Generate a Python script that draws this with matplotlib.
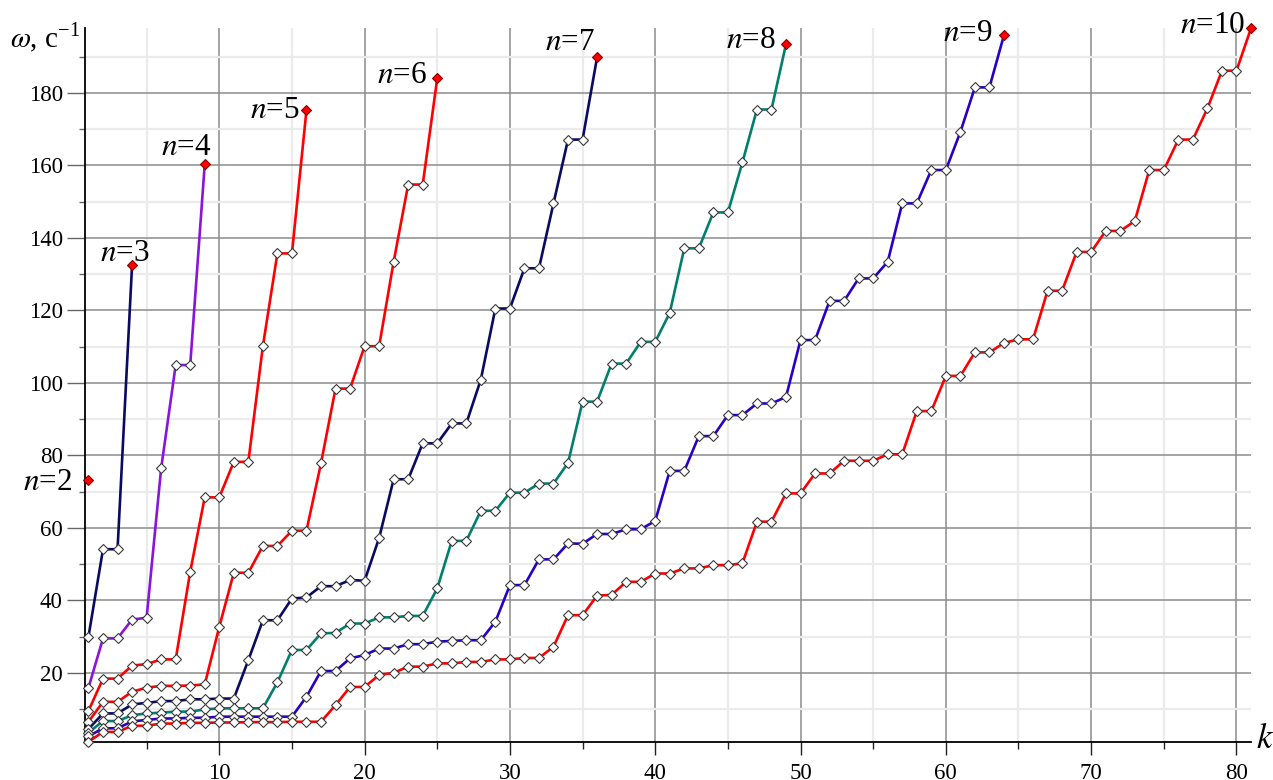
import matplotlib
matplotlib.use("Agg")
import matplotlib.pyplot as plt
from matplotlib.ticker import MultipleLocator

# eigenfrequencies omega (1/s) vs mode number k, one list per grid size n
n2 = [73.2]
n3 = [30.0, 54.1, 54.1, 132.5]
n4 = [15.9, 29.5, 29.5, 34.7, 35.2, 76.4, 104.9, 104.9, 160.3]
n5 = [9.5, 18.4, 18.4, 22.0, 22.4, 23.7, 23.7, 47.9, 68.4, 68.4, 78.2, 78.2,
      110.1, 135.7, 135.7, 175.2]
n6 = [6.5, 12.0, 12.0, 14.8, 15.9, 16.4, 16.4, 16.5, 16.8, 32.7, 47.6, 47.6,
      55.0, 55.0, 59.2, 59.2, 77.8, 98.4, 98.4, 110.1, 110.1, 133.4, 154.7,
      154.7, 184.0]
n7 = [4.5, 8.8, 8.8, 11.3, 11.7, 12.2, 12.2, 12.7, 12.7, 12.9, 12.9, 23.5,
      34.5, 34.5, 40.5, 40.8, 43.9, 43.9, 45.6, 45.4, 57.2, 73.4, 73.4, 83.3,
      83.3, 88.8, 88.8, 100.9, 120.5, 120.5, 131.6, 131.6, 149.5, 167.1, 167.1,
      189.8]
n8 = [3.5, 6.7, 6.7, 8.3, 8.8, 9.0, 9.3, 9.3, 9.9, 10.2, 10.2, 10.2, 10.2,
      17.4, 26.3, 26.3, 30.9, 31.0, 33.6, 33.6, 35.3, 35.3, 35.7, 35.7, 43.3,
      56.4, 56.4, 64.7, 64.7, 69.7, 69.7, 72.2, 72.2, 77.9, 94.8, 94.8, 105.3,
      105.3, 111.3, 111.3, 119.3, 137.1, 137.1, 147.0, 147.0, 160.8, 175.4,
      175.4, 193.4]
n9 = [2.5, 4.7, 4.7, 6.6, 7.0, 7.4, 7.4, 7.6, 7.6, 7.9, 7.9, 7.9, 7.9, 7.9,
      7.9, 13.4, 20.5, 20.5, 24.0, 24.9, 26.7, 26.7, 27.9, 27.9, 28.6, 28.8,
      29.0, 29.0, 34.1, 44.2, 44.2, 51.3, 51.3, 55.7, 55.6, 58.3, 58.3, 59.6,
      59.6, 61.9, 75.7, 75.7, 85.3, 85.3, 91.1, 91.1, 94.3, 94.3, 96.1, 111.8,
      111.8, 122.6, 122.6, 128.8, 128.8, 133.4, 149.5, 149.5, 158.7, 158.7,
      169.2, 181.5, 181.5, 195.9]
n10 = [1.0, 3.7, 3.7, 5.4, 5.4, 6.0, 6.0, 6.2, 6.2, 6.3, 6.3, 6.4, 6.4, 6.4,
       6.5, 6.5, 6.5, 11.1, 16.1, 16.1, 19.4, 20.0, 21.7, 21.7, 22.6, 22.6,
       23.0, 23.0, 23.7, 23.7, 24.1, 24.1, 27.2, 35.9, 35.9, 41.3, 41.5, 45.1,
       45.1, 47.4, 47.4, 48.8, 48.8, 49.7, 49.7, 50.2, 61.7, 61.7, 69.5, 69.5,
       75.0, 75.0, 78.5, 78.5, 78.5, 80.3, 80.3, 92.2, 92.2, 101.9, 101.9,
       108.4, 108.4, 111.0, 112.0, 112.0, 125.4, 125.4, 136.1, 136.1, 141.9,
       141.9, 144.6, 158.7, 158.7, 167.1, 167.1, 175.7, 186.1, 186.1, 197.8]

series = [(3, n3, '#0a0a64'), (4, n4, '#8a14d8'), (5, n5, '#ff0000'),
          (6, n6, '#ff0000'), (7, n7, '#0a0a64'), (8, n8, '#00806c'),
          (9, n9, '#2a00c8'), (10, n10, '#ff0000')]

# label offsets (pixels) relative to the last point of each curve
label_off = {2: (-16, -3), 3: (18, 12), 4: (7, 17), 5: (-7, 0), 6: (-10, 3),
             7: (-2, 15), 8: (-10, 4), 9: (-11, 2), 10: (-6, 3)}

plt.rcParams['font.family'] = 'serif'
plt.rcParams['font.serif'] = ['Liberation Serif', 'DejaVu Serif']
plt.rcParams['mathtext.fontset'] = 'stix'

fig = plt.figure(figsize=(12.73, 7.8), dpi=100)
W, H = 1273.0, 780.0
ax = fig.add_axes([85 / W, 1 - 741.7 / H, (1251 - 85) / W, (741.7 - 28.3) / H])

ax.set_xlim(0.76, 81.0)
ax.set_ylim(1.0, 197.8)

ax.xaxis.set_major_locator(MultipleLocator(10))
ax.xaxis.set_minor_locator(MultipleLocator(5))
ax.yaxis.set_major_locator(MultipleLocator(20))
ax.yaxis.set_minor_locator(MultipleLocator(10))
ax.grid(which='minor', color='#ebebeb', lw=1.6, zorder=0)
ax.grid(which='major', color='#8c8c8c', lw=1.1, zorder=0)
ax.set_axisbelow(True)

for s in ['top', 'right']:
    ax.spines[s].set_visible(False)
for s in ['left', 'bottom']:
    ax.spines[s].set_linewidth(1.3)
    ax.spines[s].set_color('black')

ax.tick_params(axis='y', which='major', length=13, width=1.0, pad=3,
               labelsize=16.5, color='#666666')
ax.tick_params(axis='y', which='minor', length=4.5, width=1.0, color='#666666')
ax.tick_params(axis='x', which='major', length=9.5, width=1.0, pad=6,
               labelsize=16.5, color='#222222')
ax.tick_params(axis='x', which='minor', length=5, width=1.0, color='#222222')

def lab(v, pos):
    return '' if v <= 0 else '%d' % v
ax.xaxis.set_major_formatter(plt.FuncFormatter(lab))
ax.yaxis.set_major_formatter(plt.FuncFormatter(lab))

for n, vals, col in series:
    ks = list(range(1, len(vals) + 1))
    ax.plot(ks, vals, color=col, lw=1.9, zorder=3, clip_on=False)
    ax.plot(ks[:-1], vals[:-1], ls='none', marker='D', ms=5.3, mfc='white',
            mec='#3a3a3a', mew=0.8, zorder=4, clip_on=False)

ends = [(2, n2)] + [(n, v) for n, v, c in series]
for n, vals in ends:
    ax.plot([len(vals)], [vals[-1]], ls='none', marker='D', ms=5.3,
            mfc='#ff0000', mec='#8a0000', mew=0.8, zorder=5, clip_on=False)
    dx, dy = label_off[n]
    ax.annotate('$n$=%d' % n, (len(vals), vals[-1]), xytext=(dx, dy),
                textcoords='offset pixels', ha='right', va='center',
                fontsize=22.5)

fig.text(10 / W, 1 - 38 / H, '$\\omega$, с$^{\\mathregular{-1}}$', fontsize=21,
         ha='left', va='center')
fig.text(1256 / W, 1 - 740 / H, '$k$', fontsize=25, ha='left', va='center')

fig.savefig('out.png', dpi=100)
